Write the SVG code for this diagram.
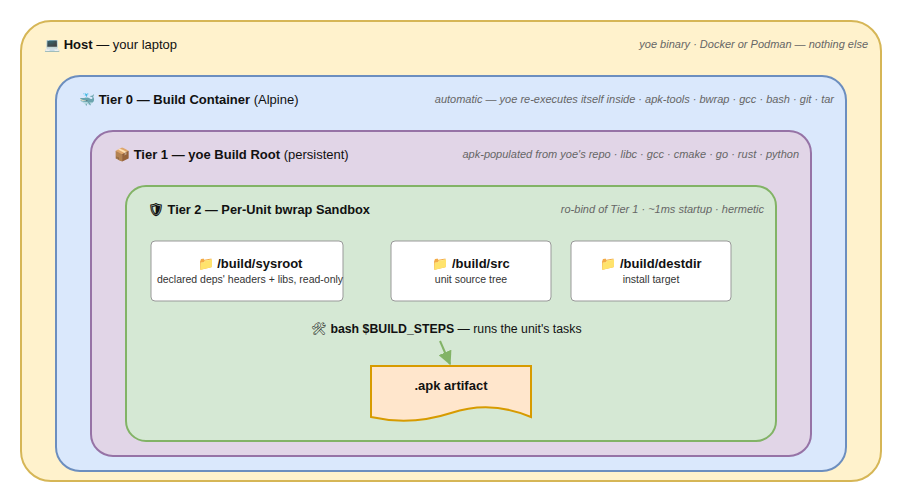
<svg xmlns="http://www.w3.org/2000/svg" width="904" height="504" viewBox="0 0 904 504">
<style>
text{font-family:"Liberation Sans","Noto Sans",sans-serif;fill:#111}
.t{font-size:13px}
.n{font-size:13px;font-weight:bold}
.s{font-size:10.5px;fill:#333}
.r{font-size:11px;font-style:italic;fill:#666;text-anchor:end}
.c{text-anchor:middle}
.box{fill:#fff;stroke:#999;stroke-width:1}
</style>
<defs><marker id="a" viewBox="0 0 10 10" refX="9" refY="5" markerWidth="7" markerHeight="7" orient="auto"><path d="M0,0L10,5L0,10z" fill="#82b366"/></marker></defs>
<g id="host"><rect x="21" y="21" width="860" height="460" rx="30" fill="#fff2cc" stroke="#d6b656" stroke-width="2"/>
<text x="44" y="49" class="t">💻 <tspan font-weight="bold">Host</tspan> — your laptop</text>
<text x="868" y="48" class="r">yoe binary · Docker or Podman — nothing else</text></g>
<g id="tier0"><rect x="56" y="76" width="790" height="395" rx="24" fill="#dae8fc" stroke="#6c8ebf" stroke-width="2"/>
<text x="79" y="104" class="t">🐳 <tspan font-weight="bold">Tier 0 — Build Container</tspan> (Alpine)</text>
<text x="834" y="103" class="r">automatic — yoe re-executes itself inside · apk-tools · bwrap · gcc · bash · git · tar</text></g>
<g id="tier1"><rect x="91" y="131" width="720" height="325" rx="22" fill="#e1d5e7" stroke="#9673a6" stroke-width="2"/>
<text x="114" y="159" class="t">📦 <tspan font-weight="bold">Tier 1 — yoe Build Root</tspan> (persistent)</text>
<text x="799" y="158" class="r">apk-populated from yoe's repo · libc · gcc · cmake · go · rust · python</text></g>
<g id="tier2"><rect x="126" y="186" width="650" height="255" rx="20" fill="#d5e8d4" stroke="#82b366" stroke-width="2"/>
<text x="148" y="214" class="n" style="font-size:12.8px">🛡 Tier 2 — Per-Unit bwrap Sandbox</text>
<text x="764" y="213" class="r">ro-bind of Tier 1 · ~1ms startup · hermetic</text>
<text x="311" y="333" class="t" style="font-size:12.3px">🛠 <tspan font-weight="bold">bash $BUILD_STEPS</tspan> — runs the unit's tasks</text></g>
<g id="sysroot"><rect class="box" x="151" y="241" width="192" height="60" rx="4"/>
<text x="250" y="268" class="n c">📁 /build/sysroot</text><text x="250" y="283" class="s c">declared deps' headers + libs, read-only</text></g>
<g id="src"><rect class="box" x="391" y="241" width="160" height="60" rx="4"/>
<text x="471" y="268" class="n c">📁 /build/src</text><text x="471" y="283" class="s c">unit source tree</text></g>
<g id="destdir"><rect class="box" x="571" y="241" width="160" height="60" rx="4"/>
<text x="651" y="268" class="n c">📁 /build/destdir</text><text x="651" y="283" class="s c">install target</text></g>
<g id="apk"><path d="M371,366H531V417Q491,400 451,413T371,417Z" fill="#ffe6cc" stroke="#d79b00" stroke-width="2"/>
<text x="451" y="390" class="n c">.apk artifact</text></g>
<g id="connectors"><line x1="440" y1="341" x2="450" y2="364" stroke="#82b366" stroke-width="2" marker-end="url(#a)"/></g>
</svg>
